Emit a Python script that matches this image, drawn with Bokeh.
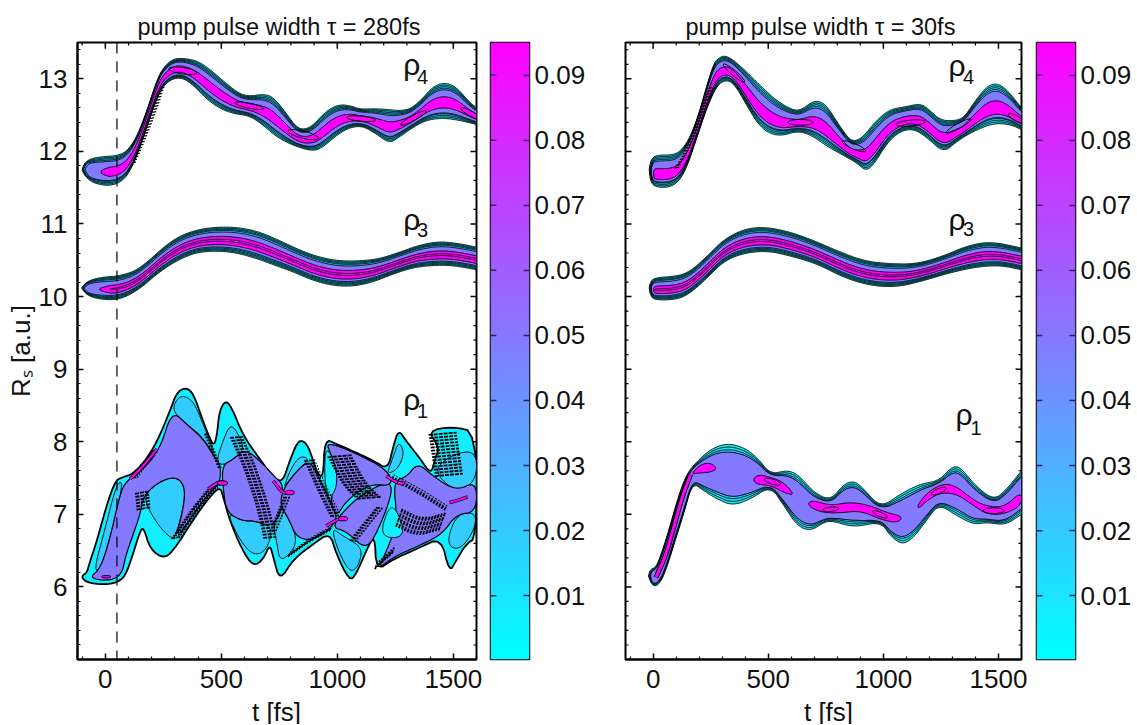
import numpy as np
from bokeh.embed import file_html
from bokeh.resources import INLINE
from bokeh.layouts import row, column
from bokeh.plotting import figure
from bokeh.core.properties import value
from bokeh.models import (FixedTicker, Label, LinearColorMapper, Range1d, Span)

# ---------- data (t [fs], R_s [a.u.]) ----------
t_major = [0, 500, 1000, 1500]
t_minor = [-100, 100, 200, 300, 400, 600, 700, 800, 900, 1100, 1200, 1300, 1400, 1600]
R_major = [6, 7, 8, 9, 10, 11, 12, 13]
R_minor = [round(5 + 0.2 * i, 1) for i in range(43) if i % 5]
cbar_major = [0.01, 0.02, 0.03, 0.04, 0.05, 0.06, 0.07, 0.08, 0.09]
t_range = (-120, 1600)
R_range = (5.0, 13.5)
cbar_range = (0.0002, 0.095)
pump_marker_t = 50
titles = ["pump pulse width τ = 280fs", "pump pulse width τ = 30fs"]
xlabel, ylabel = "t [fs]", "Rₛ [a.u.]"

L_r4_up = [(-100,11.74),(-93,11.83),(-64,11.90),(-7,11.93),(50,11.94),(93,12.00),(136,12.20),(179,12.56),(222,12.98),(251,13.16),(294,13.28),(351,13.28),(408,13.23),(466,13.09),(523,12.93),(580,12.79),(623,12.76),(681,12.79),(724,12.75),(781,12.52),(824,12.33),(860,12.30),(896,12.36),(953,12.56),(1010,12.65),(1068,12.62),(1096,12.58),(1182,12.59),(1297,12.55),(1354,12.68),(1411,12.89),(1462,12.95),(1512,12.89),(1569,12.68),(1600,12.60)]
L_r4_lo = [(-86,11.65),(-50,11.56),(21,11.52),(79,11.60),(115,11.78),(150,12.06),(193,12.47),(236,12.84),(279,12.99),(330,13.02),(380,12.91),(437,12.72),(494,12.59),(552,12.52),(623,12.49),(681,12.36),(738,12.20),(810,12.08),(896,12.00),(939,12.06),(996,12.22),(1053,12.33),(1110,12.35),(1168,12.24),(1225,12.11),(1268,12.20),(1326,12.33),(1383,12.43),(1454,12.46),(1526,12.43),(1600,12.37)]
L_r3_up = [(-102,10.12),(-91,10.17),(-64,10.23),(-7,10.27),(50,10.28),(122,10.34),(179,10.47),(251,10.68),(322,10.84),(408,10.93),(494,10.96),(580,10.95),(666,10.89),(752,10.77),(838,10.64),(924,10.54),(1010,10.49),(1096,10.49),(1182,10.52),(1268,10.61),(1354,10.71),(1440,10.76),(1526,10.73),(1600,10.68)]
L_r3_lo = [(-86,10.04),(-50,9.98),(21,9.95),(79,9.98),(150,10.11),(222,10.31),(294,10.47),(380,10.60),(466,10.63),(552,10.61),(638,10.54),(724,10.44),(810,10.34),(896,10.22),(982,10.15),(1068,10.14),(1154,10.20),(1240,10.31),(1326,10.40),(1411,10.43),(1497,10.43),(1600,10.37)]

R_r4_up = [(-17,11.75),(-13,11.84),(-3,11.91),(19,11.95),(91,11.95),(127,12.03),(163,12.21),(200,12.53),(236,12.94),(265,13.22),(286,13.29),(311,13.32),(344,13.27),(395,13.13),(467,12.90),(539,12.69),(612,12.56),(648,12.58),(684,12.67),(720,12.70),(756,12.62),(800,12.40),(850,12.17),(879,12.14),(915,12.21),(973,12.44),(1031,12.58),(1089,12.61),(1161,12.66),(1197,12.58),(1248,12.43),(1306,12.42),(1349,12.46),(1393,12.67),(1450,12.90),(1494,12.94),(1537,12.85),(1600,12.60)]
R_r4_lo = [(-13,11.61),(4,11.51),(69,11.50),(113,11.59),(149,11.80),(192,12.21),(236,12.62),(279,12.92),(322,12.99),(359,12.90),(409,12.62),(453,12.39),(496,12.26),(554,12.21),(626,12.28),(684,12.23),(756,12.07),(829,11.94),(886,11.84),(923,11.73),(959,11.82),(1017,12.12),(1074,12.28),(1132,12.31),(1190,12.19),(1262,11.98),(1320,12.14),(1393,12.28),(1479,12.39),(1552,12.37),(1600,12.30)]
R_r3_up = [(-17,10.12),(-13,10.19),(4,10.26),(106,10.28),(163,10.35),(236,10.56),(308,10.79),(395,10.93),(482,10.96),(583,10.90),(684,10.79),(800,10.63),(915,10.49),(1031,10.45),(1147,10.45),(1262,10.56),(1364,10.70),(1465,10.76),(1600,10.67)]
R_r3_lo = [(-13,10.03),(4,9.95),(106,9.96),(163,10.05),(236,10.26),(308,10.49),(395,10.60),(496,10.63),(597,10.56),(713,10.45),(829,10.26),(944,10.15),(1060,10.13),(1176,10.22),(1291,10.33),(1407,10.41),(1508,10.43),(1600,10.37)]
R_r1_up = [(-20,6.15),(-13,6.24),(12,6.27),(33,6.43),(69,6.79),(106,7.21),(142,7.53),(178,7.69),(250,7.90),(322,7.98),(395,7.92),(453,7.78),(510,7.55),(583,7.61),(633,7.54),(698,7.30),(771,7.19),(829,7.42),(875,7.46),(915,7.35),(988,7.09),(1074,7.28),(1161,7.42),(1241,7.46),(1299,7.66),(1335,7.65),(1392,7.42),(1479,7.19),(1537,7.35),(1600,7.60)]
R_r1_lo = [(-13,6.08),(4,6.00),(33,6.06),(62,6.29),(98,6.66),(134,7.02),(171,7.44),(221,7.32),(279,7.21),(344,7.12),(424,7.21),(510,7.39),(568,7.12),(626,6.84),(684,6.77),(742,6.89),(778,6.91),(872,6.82),(988,6.90),(1031,6.70),(1082,6.58),(1132,6.68),(1190,6.93),(1241,7.14),(1320,6.98),(1392,6.86),(1450,6.89),(1530,6.85),(1600,7.00)]

# right panel rho_1 high-density blobs
R_r1_blobs = [
    [(163,7.55),(207,7.69),(250,7.71),(279,7.63),(250,7.58),(199,7.57)],
    [(431,7.48),(460,7.55),(510,7.51),(568,7.44),(616,7.26),(568,7.30),(510,7.40),(453,7.41)],
    [(672,7.16),(698,7.19),(771,7.12),(857,7.17),(944,7.12),(1017,7.02),(1086,6.97),(1060,6.88),(988,6.93),(901,7.05),(814,7.02),(742,7.02),(684,7.09)],
    [(1147,7.12),(1190,7.30),(1262,7.43),(1320,7.38),(1378,7.23),(1436,7.12),(1523,7.09),(1600,7.32),(1600,7.12),(1523,7.00),(1450,7.00),(1392,7.12),(1320,7.28),(1248,7.30),(1190,7.19),(1154,7.08)],
]
R_r1_rise = [(12,6.13),(55,6.43),(91,6.84),(127,7.25),(163,7.55)]

# closed contour islands: t, R, width, height, tilt
L_r4_isl = [(334,13.11,122,.09,-.15),(620,12.63,130,.07,-.2),(853,12.23,136,.10,-.25),(1103,12.45,125,.07,-.1),(1328,12.46,125,.07,.5),(1576,12.52,100,.07,-.5)]
R_r4_isl = [(351,13.08,120,.07,-.7),(640,12.40,110,.08,0),(872,12.07,110,.08,-.4),(1118,12.39,130,.08,.1),(1327,12.35,125,.07,.5),(1573,12.46,70,.07,-.5)]
R_r1_isl = [(518,7.45,75,.07,-.3),(771,7.07,70,.06,.1),(985,7.00,70,.06,-.4),(1241,7.32,70,.07,.4),(1479,7.05,90,.08,0)]
L_r4_rise = [(125,11.85),(179,12.25),(222,12.62),(250,12.90)]
R_r4_rise = [(106,11.78),(163,12.10),(222,12.62),(250,12.88)]

# left panel rho_1
L_r1_outer = [(-105,6.14),(-79,6.20),(-72,6.29),(-36,6.64),(7,7.14),(43,7.46),(72,7.51),(115,7.55),(165,7.71),(222,7.99),(279,8.43),(308,8.68),(348,8.75),(380,8.66),(416,8.33),(444,8.10),(466,7.94),(480,8.06),(492,8.43),(519,8.57),(545,8.47),(595,8.08),(666,7.76),(724,7.51),(764,7.44),(795,7.74),(827,7.99),(850,8.02),(874,7.94),(896,7.74),(917,7.55),(939,7.51),(946,8.04),(996,7.97),(1082,7.85),(1154,7.74),(1218,7.62),(1240,7.92),(1264,8.17),(1297,8.01),(1354,7.78),(1404,7.55),(1419,7.74),(1440,7.92),(1390,8.15),(1497,8.21),(1600,8.13),(1600,6.68),(1555,6.59),(1512,6.36),(1483,6.20),(1447,6.68),(1354,6.54),(1240,6.38),(1168,6.22),(1161,6.73),(1125,6.50),(1082,6.18),(1053,6.08),(996,6.45),(968,6.75),(896,6.59),(810,6.38),(752,6.08),(724,6.41),(709,6.59),(681,6.38),(638,6.28),(588,6.52),(537,6.91),(509,7.23),(494,7.39),(437,7.19),(380,6.93),(294,6.50),(251,6.39),(193,6.52),(165,6.82),(150,6.77),(115,6.41),(86,6.15),(50,6.06),(-7,6.03),(-79,6.06)]
L_r1_sky = [
    [(-50,6.22),(0,6.82),(50,7.44),(79,7.44),(21,6.68),(-21,6.25)],
    [(287,8.43),(312,8.61),(348,8.63),(386,8.52),(422,8.24),(451,8.01),(473,7.78),(422,8.06),(351,8.24)],
    [(165,7.26),(236,7.46),(308,7.52),(344,7.37),(337,7.09),(301,6.68),(279,6.68),(236,6.82),(193,7.03)],
    [(480,7.74),(502,7.97),(537,8.24),(566,8.15),(602,7.90),(552,7.76),(502,7.67)],
    [(523,7.03),(588,6.91),(645,6.91),(724,6.82),(695,6.50),(638,6.43),(580,6.64)],
    [(770,7.37),(795,7.60),(838,7.81),(881,7.76),(831,7.62),(781,7.42)],
    [(752,7.14),(795,6.91),(824,6.68),(810,6.50),(752,6.34),(738,6.64),(724,6.82)],
    [(974,6.82),(1025,6.70),(1111,6.54),(1089,6.27),(1053,6.20),(1003,6.50)],
    [(1211,7.55),(1240,7.78),(1264,8.01),(1290,7.85),(1261,7.62)],
    [(1411,7.60),(1497,7.83),(1600,7.88),(1600,7.46),(1512,7.30)],
    [(1469,6.59),(1512,7.00),(1600,7.03),(1590,6.77),(1526,6.50)],
]
L_r1_violet = [
    [(-72,6.12),(-21,6.25),(21,6.68),(57,7.19),(82,7.44),(158,7.60),(236,7.90),(287,8.43),(351,8.24),(422,8.04),(480,7.74),(497,7.67),(494,7.42),(437,7.26),(380,7.00),(301,6.64),(337,7.09),(344,7.37),(308,7.52),(236,7.46),(165,7.26),(150,7.00),(115,6.68),(86,6.41),(72,6.18),(21,6.08)],
    [(502,7.67),(552,7.76),(602,7.90),(666,7.74),(738,7.49),(764,7.42),(767,7.14),(724,6.82),(645,6.91),(588,6.91),(523,7.03),(509,7.32)],
    [(770,7.37),(831,7.62),(881,7.74),(917,7.53),(968,7.19),(1003,6.96),(968,6.80),(896,6.64),(824,6.68),(795,6.91),(752,7.14)],
    [(974,6.82),(1039,7.09),(1111,7.28),(1218,7.46),(1240,7.32),(1182,6.82),(1125,6.50),(1039,6.77)],
    [(946,8.01),(1082,7.84),(1218,7.61),(1240,7.39),(1140,7.42),(1039,7.19),(996,6.96),(968,7.19),(996,7.46),(981,7.78)],
    [(1240,7.46),(1297,7.51),(1347,7.71),(1411,7.53),(1512,7.32),(1600,7.46),(1600,7.03),(1512,7.00),(1454,6.73),(1354,6.57),(1240,6.41),(1175,6.24),(1218,6.54),(1260,6.90)],
]
L_r1_cyan_top = [[(1182,6.68),(1218,7.09),(1254,7.09),(1297,6.68)], [(946,7.95),(985,7.75),(1003,7.45),(975,7.22),(946,7.35)]]
L_r1_fringes = [
    [(158,7.30),(165,7.05)],
    [(308,6.68),(394,7.09),(480,7.42)],
    [(566,8.06),(623,7.65),(681,7.09),(709,6.68)],
    [(881,7.74),(939,7.32),(996,6.96)],
    [(795,6.45),(896,6.68),(982,6.82)],
    [(1010,7.80),(1075,7.40),(1145,7.20)],
    [(1268,6.96),(1354,6.82),(1454,6.91)],
    [(1454,8.11),(1483,7.51)],
    [(1168,6.29),(1240,6.50)],
    [(1068,6.64),(1182,7.09)],
    [(1240,7.51),(1354,7.32),(1476,7.07)],
    [(437,8.10),(494,7.65)],
    [(781,7.23),(724,6.77)],
    [(129,7.51),(215,7.90)],
]
L_r1_streaks = [
    [(107,7.49),(165,7.67),(222,7.90)],
    [(444,7.35),(494,7.46),(523,7.43)],
    [(724,7.46),(767,7.28),(802,7.30)],
    [(953,6.84),(1010,6.95),(1032,6.93)],
    [(1211,7.53),(1254,7.44),(1283,7.42)],
    [(1483,7.16),(1526,7.20),(1562,7.24)],
]
L_r1_isl = [(4,6.14,40,.035,0),(505,7.43,45,.06,0),(795,7.30,40,.06,0),(1025,6.94,40,.06,0),(1275,7.43,35,.05,0)]

# ---------- styles ----------
CYAN, SKY, VIOLET, MAGENTA = "#12eeff", "#33ccff", "#847aff", "#ff00ff"
FONT = "Liberation Sans"
TICK_PX, TITLE_PX = "26px", "23.5px"
fringe_widths = [14, 11, 13, 11, 6, 24, 20, 28, 7, 7, 6, 5, 7, 6]
fringe_angles = [10, 10, 5, 5, 60, 5, 70, 5, 70, -10, 60, 0, 0, 10]
H = 700          # height of the row of panels; a strip under it carries the t labels
STRIP_H = 24
PX_T, PX_R = 0.232, 72.6     # pixels per unit along t and R, for stripe shapes
DT_MAJ, DT_MIN = 26, 13      # mirrored tick lengths in data units (t)
DR_MAJ, DR_MIN = 0.085, 0.042


def chaikin(pts, n=3, closed=False):
    a = np.array(pts, dtype=float)
    for _ in range(n):
        b = np.roll(a, -1, axis=0) if closed else a[1:]
        s = a if closed else a[:-1]
        q, r = 0.75 * s + 0.25 * b, 0.25 * s + 0.75 * b
        m = np.empty((2 * len(s), 2))
        m[0::2], m[1::2] = q, r
        a = m if closed else np.vstack([a[0], m, a[-1]])
    return a[:, 0], a[:, 1]


def ribbon(p, up, lo, bands):
    ut, ur = chaikin(up)
    lt, lr = chaikin([up[0]] + lo)
    t = np.linspace(up[0][0], up[-1][0], 500)
    U, L = np.interp(t, ut, ur), np.interp(t, lt, lr)
    for ft, fb, col, ts, w in bands:
        top, bot = U - ft * (U - L), L + fb * (U - L)
        if ft or fb:
            k = np.sqrt(np.clip((t - ts) / w, 0, 1))
            c = (top + bot) / 2
            top, bot = c + (top - c) * k, c + (bot - c) * k
        m = t >= ts
        p.patch(np.r_[t[m], t[m][::-1]], np.r_[top[m], bot[m][::-1]],
                fill_color=col, line_color="black", line_width=0.95)


def rim(t0):
    return [(0, 0, CYAN, t0, 1), (.045, .045, CYAN, t0 + 2, 12), (.09, .09, SKY, t0 + 4, 14), (.135, .135, SKY, t0 + 6, 14)]


def blob(p, pts, col, lw=0.9):
    x, y = chaikin(pts, closed=True)
    p.patch(x, y, fill_color=col, line_color="black", line_width=lw)


def islands(p, isl, fill=None):
    a = np.array(isl)
    p.ellipse(a[:, 0], a[:, 1], width=a[:, 2], height=a[:, 3], angle=a[:, 4],
              fill_color=fill, line_color="black", line_width=0.9)


def stripes(p, pts, width, angle, step=3.2, lw=1.8):
    x, y = chaikin(pts)
    d = np.r_[0, np.cumsum(np.hypot(np.diff(x) * PX_T, np.diff(y) * PX_R))]
    s = np.arange(0, d[-1], step)
    xc, yc = np.interp(s, d, x), np.interp(s, d, y)
    a = np.radians(angle)
    dx, dy = width / 2 * np.cos(a) / PX_T, width / 2 * np.sin(a) / PX_R
    p.segment(xc - dx, yc - dy, xc + dx, yc + dy, line_color="black", line_width=lw, line_dash="4 1")


def text(p, x, y, s, size="26px", angle=0, align="left"):
    p.add_layout(Label(x=x, y=y, text=s, text_font=FONT, text_font_size=size, angle=angle,
                       text_align=align, text_baseline="alphabetic", text_color="#111111"))


def mirror_ticks(p, left):
    tmin, tmax = t_range
    rmin, rmax = R_range
    for vals, dr, w in ((t_major, DR_MAJ, 1.5), (t_minor, DR_MIN, 1.2)):
        p.segment(vals, [rmax] * len(vals), vals, [rmax - dr] * len(vals), line_color="black", line_width=w)
    for vals, dt, w in ((R_major, DT_MAJ, 1.5), (R_minor, DT_MIN, 1.2)):
        p.segment([tmax] * len(vals), vals, [tmax - dt] * len(vals), vals, line_color="black", line_width=w)
        if left:
            p.segment([tmin] * len(vals), vals, [tmin + dt] * len(vals), vals, line_color="black", line_width=w)


def panel(width, bl, bt, bb, title, show_y):
    p = figure(width=width, height=H, x_range=Range1d(*t_range), y_range=Range1d(*R_range),
               min_border_left=bl, min_border_right=7, min_border_top=bt, min_border_bottom=bb,
               output_backend="svg", toolbar_location=None, background_fill_color="white")
    p.grid.visible = False
    p.outline_line_color = "black"
    p.outline_line_width = 2
    p.title.text = title
    p.title.text_font = FONT
    p.title.text_font_size = TITLE_PX
    p.title.text_font_style = "normal"
    p.title.text_color = "#111111"
    p.title.offset = 60
    p.title.standoff = 5
    xa, ya = p.xaxis[0], p.yaxis[0]
    axes = [(xa, t_major, t_minor)]
    if show_y:
        axes.append((ya, R_major, R_minor))
        ya.axis_label = ylabel
    else:
        ya.visible = False
    for ax, tm, tn in axes:
        ax.ticker = FixedTicker(ticks=tm, minor_ticks=tn)
        ax.major_tick_in, ax.major_tick_out = 6, 0
        ax.minor_tick_in, ax.minor_tick_out = 3, 0
        ax.axis_line_width = 2
        ax.major_tick_line_width = 1.5
        ax.minor_tick_line_width = 1.2
        ax.major_label_text_font = FONT
        ax.major_label_text_font_size = TICK_PX
        ax.major_label_text_color = "#111111"
        ax.major_label_standoff = 10
        ax.axis_label_text_font = FONT
        ax.axis_label_text_font_size = TICK_PX
        ax.axis_label_text_font_style = "normal"
        ax.axis_label_text_color = "#111111"
        ax.axis_label_standoff = 0
    xa.major_label_standoff = 10
    return p


def colorbar(width, bl, br):
    c = figure(width=width, height=H, x_range=Range1d(0, 1), y_range=Range1d(*cbar_range),
               y_axis_location="right", min_border_left=bl, min_border_right=br, min_border_top=40,
               min_border_bottom=H - 661, output_backend="svg", toolbar_location=None)
    c.grid.visible = False
    c.xaxis.visible = False
    vals = np.linspace(cbar_range[0], cbar_range[1], 256).reshape(-1, 1)
    pal = ["#%02x%02xff" % (i, 255 - i) for i in range(256)]
    mapper = LinearColorMapper(palette=pal, low=cbar_range[0], high=cbar_range[1])
    c.image(image=[vals], x=0, y=cbar_range[0], dw=1, dh=cbar_range[1] - cbar_range[0], color_mapper=mapper)
    c.outline_line_color = "black"
    c.outline_line_width = 1.5
    c.segment([0] * len(cbar_major), cbar_major, [0.15] * len(cbar_major), cbar_major, line_color="#332255", line_width=1.5)
    ya = c.yaxis[0]
    ya.ticker = FixedTicker(ticks=cbar_major)
    ya.major_tick_in, ya.major_tick_out = 6, 0
    ya.minor_tick_in, ya.minor_tick_out = 0, 0
    ya.major_tick_line_color = "#332255"
    ya.major_tick_line_width = 1.5
    ya.axis_line_color = None
    ya.major_label_text_font = FONT
    ya.major_label_text_font_size = TICK_PX
    ya.major_label_text_color = "#111111"
    ya.major_label_standoff = 5
    ya.formatter.precision = 2
    return c


# ---------- left panel ----------
p1 = panel(483, 77, 40, H - 659, titles[0], True)
mirror_ticks(p1, False)
ribbon(p1, L_r4_up, L_r4_lo, rim(-100) + [(.18, .16, VIOLET, -88, 20), (.38, .30, MAGENTA, -20, 40)])
islands(p1, L_r4_isl)
stripes(p1, L_r4_rise, 5, 10, lw=1.3)
ribbon(p1, L_r3_up, L_r3_lo, rim(-102) + [(.20, .18, VIOLET, -92, 20), (.38, .28, MAGENTA, -25, 50), (.50, .42, MAGENTA, 20, 60)])

x, y = chaikin(L_r1_outer, n=2, closed=True)
p1.patch(x, y, fill_color=CYAN, line_color="black", line_width=1.8)
for s in L_r1_sky:
    blob(p1, s, SKY)
for v in L_r1_violet:
    blob(p1, v, VIOLET, 1.2)
for s in L_r1_cyan_top:
    blob(p1, s, CYAN)
for f, w, a in zip(L_r1_fringes, fringe_widths, fringe_angles):
    stripes(p1, f, w, a)
for s in L_r1_streaks:
    fx, fy = chaikin(s)
    p1.line(fx, fy, line_color="black", line_width=3.5)
    p1.line(fx, fy, line_color=MAGENTA, line_width=2)
islands(p1, L_r1_isl, MAGENTA)
p1.add_layout(Span(location=pump_marker_t, dimension="height", line_color="black", line_width=1.2, line_dash="11 8"))

text(p1, 1284, 13.20, "ρ", "30px"); text(p1, 1344, 13.02, "4", "20px")
text(p1, 1284, 11.06, "ρ", "30px"); text(p1, 1344, 10.92, "3", "20px")
text(p1, 1284, 8.58, "ρ", "30px"); text(p1, 1344, 8.42, "1", "20px")

# ---------- right panel ----------
p2 = panel(416, 13, 42, H - 661, titles[1], False)
mirror_ticks(p2, True)
ribbon(p2, R_r4_up, R_r4_lo, rim(-17) + [(.18, .16, VIOLET, -10, 12), (.42, .24, MAGENTA, 0, 8)])
islands(p2, R_r4_isl)
stripes(p2, R_r4_rise, 5, 10, lw=1.3)
ribbon(p2, R_r3_up, R_r3_lo, rim(-17) + [(.20, .18, VIOLET, -10, 12), (.38, .28, MAGENTA, 0, 10), (.50, .42, MAGENTA, 6, 12)])
ribbon(p2, R_r1_up, R_r1_lo, rim(-20) + [(.13, .13, VIOLET, -12, 10)])
for b in R_r1_blobs:
    blob(p2, b, MAGENTA)
fx, fy = chaikin(R_r1_rise)
p2.line(fx, fy, line_color="black", line_width=5)
p2.line(fx, fy, line_color=MAGENTA, line_width=3)
islands(p2, R_r1_isl)

text(p2, 1283, 13.19, "ρ", "30px"); text(p2, 1346, 13.02, "4", "20px")
text(p2, 1283, 11.06, "ρ", "30px"); text(p2, 1346, 10.93, "3", "20px")
text(p2, 1313, 8.37, "ρ", "30px"); text(p2, 1378, 8.19, "1", "20px")

c1 = colorbar(129, 7, 83)
c2 = colorbar(106, 8, 59)

# strip under the panels: one t axis label under each panel, placed in strip pixels
strip_w = 483 + 129 + 416 + 106
strip = figure(width=strip_w, height=STRIP_H, x_range=Range1d(0, strip_w), y_range=Range1d(0, STRIP_H),
               min_border=0, output_backend="svg", toolbar_location=None)
strip.axis.visible = False
strip.grid.visible = False
strip.outline_line_color = None
strip.text(x=[276, 828], y=[13, 13], text=[xlabel, xlabel], text_font=value(FONT), text_font_size=value(TICK_PX),
           text_align="center", text_baseline="alphabetic", text_color="#111111")

layout = column(row(p1, c1, p2, c2, spacing=0), strip, spacing=0)
open("out.html", "w").write(file_html(layout, INLINE))
